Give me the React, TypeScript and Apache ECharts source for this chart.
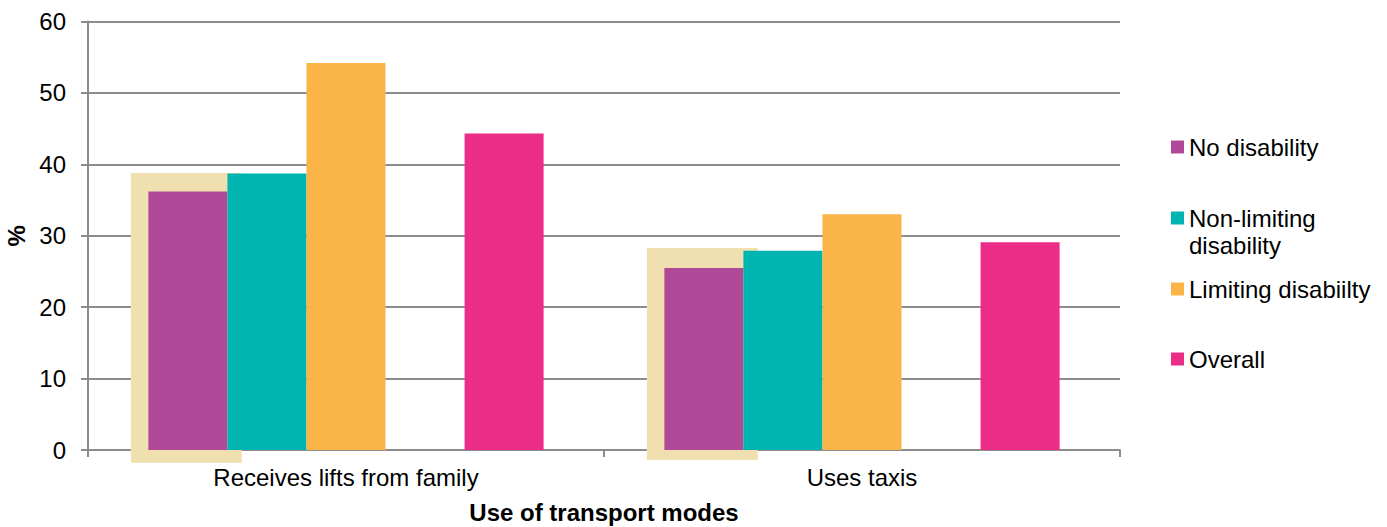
import React, { useEffect, useRef } from "react";
import * as echarts from "echarts";

const categories = ["Receives lifts from family", "Uses taxis"];
const noDisability = [36.2, 25.5];
const nonLimiting = [38.7, 27.9];
const limiting = [54.2, 33.0];
const overall = [44.3, 29.1];
const highlightTop = [38.8, 28.3];
const highlightBottom = [-1.8, -1.4];
const yTicks = [0, 10, 20, 30, 40, 50, 60];

const FONT = "'Liberation Sans', Arial, sans-serif";
const FS = 24;

export default function App() {
  const ref = useRef<HTMLDivElement>(null);
  useEffect(() => {
    if (!ref.current) return;
    const chart = echarts.init(ref.current, null, { renderer: "svg" });
    const legendBase = {
      orient: "vertical",
      left: 1171,
      padding: 0,
      itemWidth: 13,
      itemHeight: 13,
      itemGap: 0,
      icon: "rect",
      textStyle: { fontFamily: FONT, fontSize: FS, color: "#000", lineHeight: 29 },
    };
    chart.setOption({
      animation: false,
      textStyle: { fontFamily: FONT },
      grid: { left: 88, right: 267, top: 21.5, bottom: 77, containLabel: false, outerBoundsMode: "none" },
      legend: [
        { ...legendBase, top: 132.5, data: ["No disability"] },
        {
          ...legendBase,
          top: 203.5,
          data: ["Non-limiting disability"],
          formatter: () => "Non-limiting",
        },
        { ...legendBase, top: 274.5, data: ["Limiting disabiilty"] },
        { ...legendBase, top: 344.5, data: ["Overall"] },
      ],
      graphic: [
        {
          type: "text",
          left: 1189,
          top: 233,
          style: { text: "disability", font: `${FS}px ${FONT}`, fill: "#000" },
        },
      ],
      xAxis: {
        type: "category",
        data: categories,
        name: "Use of transport modes",
        nameLocation: "middle",
        nameGap: 50,
        nameTextStyle: { fontFamily: FONT, fontSize: FS, fontWeight: "bold", color: "#000" },
        axisLine: { lineStyle: { color: "#8c8c8c", width: 2 } },
        axisTick: { show: true, length: 7, lineStyle: { color: "#8c8c8c", width: 2 } },
        axisLabel: { fontFamily: FONT, fontSize: FS, color: "#000", margin: 15 },
      },
      yAxis: {
        type: "value",
        min: yTicks[0],
        max: yTicks[yTicks.length - 1],
        interval: 10,
        name: "%",
        nameLocation: "middle",
        nameGap: 58,
        nameRotate: 90,
        nameTextStyle: { fontFamily: FONT, fontSize: FS, fontWeight: "bold", color: "#000" },
        axisLine: { show: true, lineStyle: { color: "#8c8c8c", width: 2 } },
        axisTick: { show: true, length: 7, lineStyle: { color: "#8c8c8c", width: 2 } },
        axisLabel: { fontFamily: FONT, fontSize: FS, color: "#000", margin: 22 },
        splitLine: { lineStyle: { color: "#8c8c8c", width: 2 } },
      },
      series: [
        {
          type: "custom",
          name: "highlight",
          z: 1,
          clip: false,
          silent: true,
          data: categories.map((_, i) => [i, highlightTop[i], highlightBottom[i]]),
          encode: { x: 0, y: 1 },
          renderItem: (params: any, api: any) => {
            const top = api.coord([api.value(0), api.value(1)]);
            const bottom = api.coord([api.value(0), api.value(2)]);
            const bw = api.size([1, 0])[0];
            const x0 = top[0] - 0.417 * bw;
            const x1 = top[0] - 0.202 * bw;
            return {
              type: "rect",
              shape: { x: x0, y: top[1], width: x1 - x0, height: bottom[1] - top[1] },
              style: { fill: "#F0DFAF" },
            };
          },
        },
        { type: "bar", name: "No disability", data: noDisability, itemStyle: { color: "#B04A98" }, barGap: "0%", barCategoryGap: "23.4%", z: 3 },
        { type: "bar", name: "Non-limiting disability", data: nonLimiting, itemStyle: { color: "#00B5B1" }, z: 3 },
        { type: "bar", name: "Limiting disabiilty", data: limiting, itemStyle: { color: "#FBB447" }, z: 3 },
        { type: "bar", name: "spacer", data: categories.map(() => null), z: 3 },
        { type: "bar", name: "Overall", data: overall, itemStyle: { color: "#EC2D88" }, z: 3 },
      ],
    });
    return () => chart.dispose();
  }, []);
  return (
    <div
      ref={ref}
      style={{ position: "fixed", left: 0, top: 0, width: 1387, height: 527, background: "#fff" }}
    />
  );
}
